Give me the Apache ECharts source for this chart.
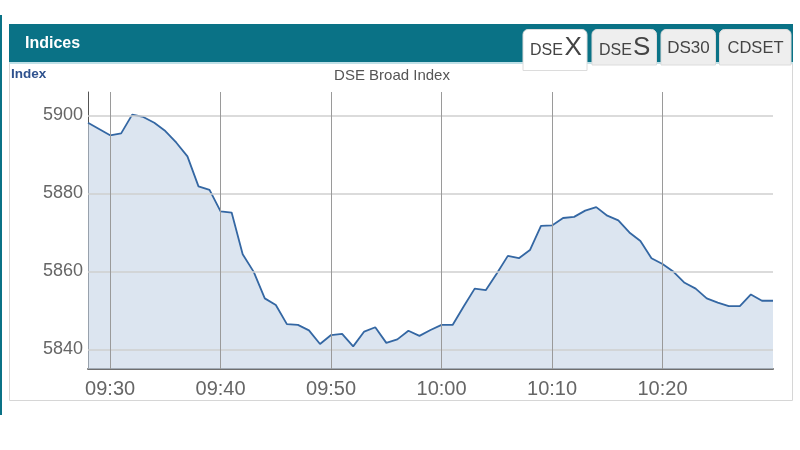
<!DOCTYPE html>
<html>
<head>
<meta charset="utf-8">
<script src="https://cdn.jsdelivr.net/npm/echarts@6/dist/echarts.min.js"></script>
<style>
html,body{margin:0;padding:0;background:#fff;}
#chart{width:800px;height:450px;}
</style>
</head>
<body>
<div id="chart"></div>
<script>
// ---- data ----
var times = ["09:28","09:29","09:30","09:31","09:32","09:33","09:34","09:35","09:36","09:37",
  "09:38","09:39","09:40","09:41","09:42","09:43","09:44","09:45","09:46","09:47",
  "09:48","09:49","09:50","09:51","09:52","09:53","09:54","09:55","09:56","09:57",
  "09:58","09:59","10:00","10:01","10:02","10:03","10:04","10:05","10:06","10:07",
  "10:08","10:09","10:10","10:11","10:12","10:13","10:14","10:15","10:16","10:17",
  "10:18","10:19","10:20","10:21","10:22","10:23","10:24","10:25","10:26","10:27",
  "10:28","10:29","10:30"];
var indexValues = [5898.1,5896.5,5894.9,5895.4,5900.2,5899.6,5898.1,5896.0,5893.0,5889.5,
  5881.8,5880.9,5875.4,5875.1,5864.4,5859.9,5853.1,5851.4,5846.5,5846.3,
  5844.9,5841.4,5843.7,5844.0,5840.8,5844.6,5845.7,5841.7,5842.6,5844.8,
  5843.5,5845.0,5846.3,5846.3,5851.0,5855.6,5855.2,5859.5,5864.0,5863.4,
  5865.5,5871.7,5871.8,5873.7,5874.0,5875.6,5876.5,5874.3,5873.1,5870.0,
  5867.8,5863.4,5861.9,5859.9,5857.1,5855.6,5853.1,5852.0,5851.1,5851.1,
  5854.1,5852.5,5852.5];
var xTickLabels = ["09:30","09:40","09:50","10:00","10:10","10:20"];
var yTickValues = [5840,5860,5880,5900];
var tabs = ["DSEX","DSES","DS30","CDSET"];
var headerTitle = "Indices";
var axisTitle = "Index";
var chartTitle = "DSE Broad Index";

// ---- helpers ----
function toMin(s){var p=s.split(":");return (+p[0])*60+(+p[1]);}
function fmt(m){var h=Math.floor(m/60),mm=m%60;return (h<10?"0":"")+h+":"+(mm<10?"0":"")+mm;}
var xTickMins = xTickLabels.map(toMin);
var seriesData = times.map(function(t,i){return [toMin(t), indexValues[i]];});

var FONT = "'Liberation Sans', Arial, sans-serif";
var TEAL = "#0a7286";

var chart = echarts.init(document.getElementById('chart'), null, {renderer:'canvas'});
var option = {
  animation:false,
  backgroundColor:'#fff',
  grid:{left:88, right:27, top:92, bottom:81, containLabel:false},
  xAxis:{
    type:'value', min:toMin(times[0]), max:toMin(times[times.length-1]), interval:2,
    axisLine:{show:true, lineStyle:{color:'#6f6f6f', width:2}},
    axisTick:{show:false},
    splitLine:{show:false},
    axisLabel:{
      margin:10, color:'#666', fontSize:20, fontFamily:FONT,
      formatter:function(v){return xTickMins.indexOf(v)>=0 ? fmt(v) : '';}
    }
  },
  yAxis:{
    type:'value', min:5835, max:5906, interval:5,
    axisLine:{show:true, lineStyle:{color:'#555', width:1}},
    axisTick:{show:false},
    splitLine:{show:false},
    axisLabel:{
      margin:5, color:'#666', fontSize:18, fontFamily:FONT,
      formatter:function(v){return yTickValues.indexOf(v)>=0 ? String(v) : '';}
    }
  },
  series:[
    {
      type:'line', z:1, data:[], silent:true,
      markLine:{
        silent:true, symbol:['none','none'], label:{show:false},
        data: yTickValues.map(function(v){return {yAxis:v, lineStyle:{color:'#cfcfcf', width:1.5, type:'solid'}};})
          .concat(xTickMins.map(function(v){return {xAxis:v, lineStyle:{color:'#9a9a9a', width:1, type:'solid'}};}))
      }
    },
    {
      type:'line', z:2, data:seriesData, showSymbol:false, smooth:false,
      lineStyle:{color:'#3467a3', width:1.8},
      areaStyle:{color:'rgba(196,212,230,0.6)', opacity:1, origin:'start'}
    }
  ],
  graphic:[
    // outer left teal border
    {type:'rect', z:-5, shape:{x:0,y:15,width:2,height:400}, style:{fill:TEAL}},
    // panel
    {type:'rect', z:-5, shape:{x:9.5,y:63.5,width:783,height:337}, style:{fill:'#fff', stroke:'#d6d6d6', lineWidth:1}},
    // header bar
    {type:'rect', z:-4, shape:{x:9,y:24,width:784,height:38}, style:{fill:TEAL}},
    {type:'rect', z:-4, shape:{x:9,y:62,width:784,height:2}, style:{fill:'#bfe0e7'}},
    {type:'text', z:10, style:{text:headerTitle, x:25, y:44, fill:'#fff', fontSize:16, fontWeight:'bold', fontFamily:FONT, textAlign:'left', textVerticalAlign:'middle', align:'left', verticalAlign:'middle'}},
    // tabs
    {type:'rect', z:-3, shape:{x:523,y:29.5,width:64,height:41,r:[5,5,0,0]}, style:{fill:'#fff', stroke:'#dcdcdc', lineWidth:1}},
    {type:'rect', z:-3, shape:{x:592,y:29.5,width:64.5,height:35.5,r:[5,5,0,0]}, style:{fill:'#eeeeee', stroke:'#dcdcdc', lineWidth:1}},
    {type:'rect', z:-3, shape:{x:661,y:29.5,width:54.5,height:35.5,r:[5,5,0,0]}, style:{fill:'#eeeeee', stroke:'#dcdcdc', lineWidth:1}},
    {type:'rect', z:-3, shape:{x:719.5,y:29.5,width:71.5,height:35.5,r:[5,5,0,0]}, style:{fill:'#eeeeee', stroke:'#dcdcdc', lineWidth:1}},
    {type:'text', z:10, style:{text:tabs[0].slice(0,3), x:530, y:51, fill:'#444', fontSize:16, fontFamily:FONT, textAlign:'left', textVerticalAlign:'middle', align:'left', verticalAlign:'middle'}},
    {type:'text', z:10, style:{text:tabs[0].slice(3), x:564.5, y:47.5, fill:'#444', fontSize:26, fontFamily:FONT, textAlign:'left', textVerticalAlign:'middle', align:'left', verticalAlign:'middle'}},
    {type:'text', z:10, style:{text:tabs[1].slice(0,3), x:599, y:51, fill:'#444', fontSize:16, fontFamily:FONT, textAlign:'left', textVerticalAlign:'middle', align:'left', verticalAlign:'middle'}},
    {type:'text', z:10, style:{text:tabs[1].slice(3), x:633, y:47.5, fill:'#444', fontSize:26, fontFamily:FONT, textAlign:'left', textVerticalAlign:'middle', align:'left', verticalAlign:'middle'}},
    {type:'text', z:10, style:{text:tabs[2], x:688.5, y:48.5, fill:'#444', fontSize:17, fontFamily:FONT, textAlign:'center', textVerticalAlign:'middle', align:'center', verticalAlign:'middle'}},
    {type:'text', z:10, style:{text:tabs[3], x:755.5, y:48.5, fill:'#444', fontSize:16.5, fontFamily:FONT, textAlign:'center', textVerticalAlign:'middle', align:'center', verticalAlign:'middle'}},
    // titles
    {type:'text', z:10, style:{text:axisTitle, x:11, y:74, fill:'#2f528e', fontSize:13.5, fontWeight:'bold', fontFamily:FONT, textAlign:'left', textVerticalAlign:'middle', align:'left', verticalAlign:'middle'}},
    {type:'text', z:10, style:{text:chartTitle, x:392, y:75.5, fill:'#555', fontSize:15, fontFamily:FONT, textAlign:'center', textVerticalAlign:'middle', align:'center', verticalAlign:'middle'}}
  ]
};
chart.setOption(option);
</script>
</body>
</html>
